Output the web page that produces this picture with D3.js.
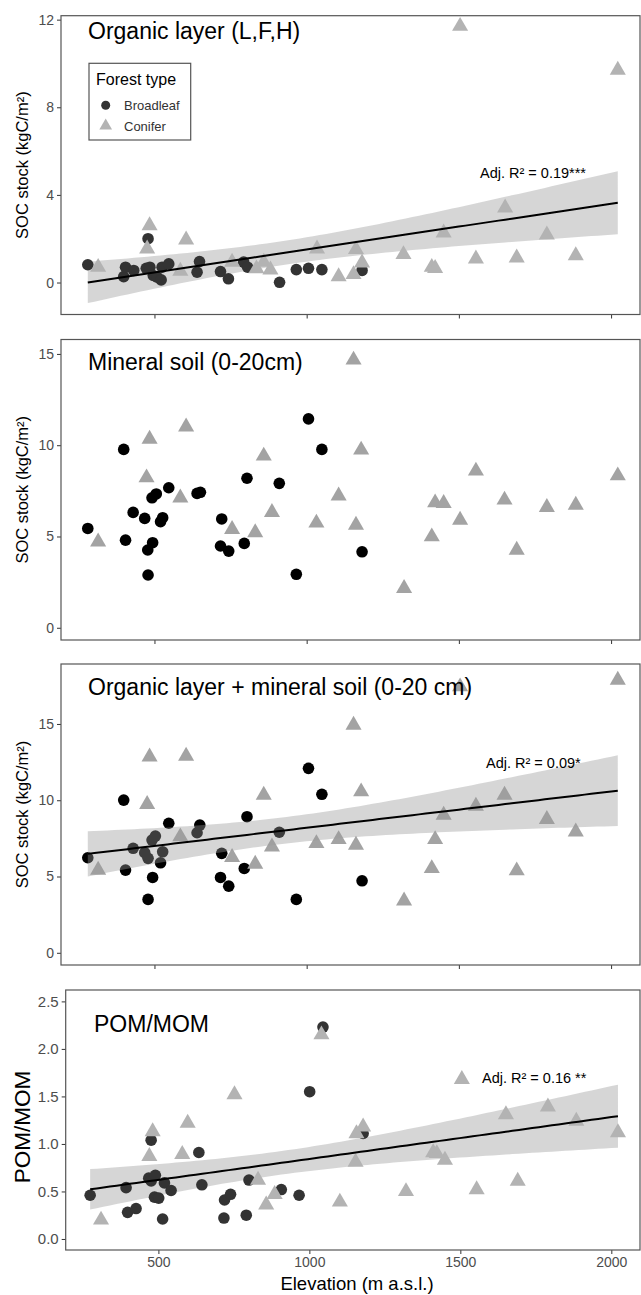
<!DOCTYPE html>
<html>
<head>
<meta charset="utf-8">
<script src="https://cdn.jsdelivr.net/npm/d3@7"></script>
<style>
  body { margin: 0; background: #fff; }
  text { font-family: "Liberation Sans", Arial, sans-serif; }
</style>
</head>
<body>
<svg id="chart" width="641" height="1295"></svg>
<script>
// elevation (m a.s.l.), value
const organicBroadleaf = [
  [281, 0.81], [399, 0.27], [405, 0.70], [432, 0.55], [473, 0.65], [479, 2.0], [485, 0.70],
  [496, 0.32], [509, 0.24], [522, 0.12], [525, 0.70], [547, 0.85], [640, 0.47], [648, 0.96],
  [717, 0.50], [743, 0.17], [793, 0.93], [806, 0.70], [911, 0.01], [966, 0.59], [1006, 0.65],
  [1050, 0.59], [1182, 0.55]
];
const organicConifer = [
  [315, 0.70], [484, 2.6], [476, 1.54], [604, 1.95], [585, 0.52], [755, 0.93], [835, 0.63],
  [859, 0.93], [881, 0.58], [1034, 1.54], [1504, 11.7], [2022, 9.7], [1652, 3.41], [1450, 2.27],
  [1789, 2.18], [1162, 1.51], [1318, 1.28], [1182, 0.90], [1105, 0.27], [1154, 0.37], [1411, 0.70],
  [1422, 0.65], [1556, 1.08], [1690, 1.13], [1884, 1.23]
];
const mineralBroadleaf = [
  [281, 5.44], [399, 9.77], [405, 4.80], [430, 6.32], [468, 5.99], [478, 4.26], [479, 2.89],
  [494, 4.66], [492, 7.12], [506, 7.33], [520, 5.81], [527, 6.03], [547, 7.67], [640, 7.36],
  [651, 7.42], [721, 5.96], [717, 4.48], [744, 4.20], [795, 4.62], [804, 8.19], [910, 7.91],
  [966, 2.93], [1006, 11.44], [1050, 9.77], [1182, 4.16]
];
const mineralConifer = [
  [315, 4.71], [484, 10.34], [474, 8.22], [604, 11.01], [585, 7.12], [755, 5.39], [831, 5.21],
  [859, 9.41], [886, 6.32], [1032, 5.74], [1154, 14.67], [1179, 9.74], [1162, 5.63], [1105, 7.23],
  [1320, 2.16], [1411, 4.99], [1422, 6.85], [1450, 6.82], [1504, 5.90], [1556, 8.59], [1650, 7.00],
  [1690, 4.26], [1789, 6.60], [1884, 6.72], [2022, 8.33]
];
const totalBroadleaf = [
  [281, 6.23], [399, 10.01], [405, 5.42], [430, 6.85], [468, 6.56], [479, 6.19], [479, 3.50],
  [494, 4.94], [492, 7.39], [503, 7.65], [520, 5.90], [527, 6.62], [547, 8.49], [640, 7.87],
  [649, 8.37], [721, 6.52], [717, 4.94], [744, 4.37], [795, 5.53], [804, 8.92], [910, 7.90],
  [966, 3.50], [1006, 12.09], [1050, 10.39], [1182, 4.72]
];
const totalConifer = [
  [315, 5.42], [484, 12.85], [476, 9.73], [604, 12.90], [585, 7.61], [755, 6.26], [831, 5.82],
  [859, 10.34], [886, 6.95], [1032, 7.17], [1504, 17.44], [2022, 17.88], [1154, 14.93], [1179, 10.56],
  [1162, 7.06], [1105, 7.43], [1320, 3.41], [1411, 5.53], [1422, 7.43], [1450, 9.03], [1556, 9.62],
  [1650, 10.34], [1690, 5.38], [1789, 8.75], [1884, 7.93]
];
const pomBroadleaf = [
  [274, 0.46], [393, 0.54], [398, 0.28], [426, 0.32], [468, 0.64], [476, 1.04], [476, 0.61],
  [490, 0.67], [487, 0.44], [501, 0.43], [514, 0.21], [520, 0.59], [542, 0.51], [634, 0.91],
  [644, 0.57], [717, 0.22], [719, 0.41], [739, 0.47], [791, 0.25], [800, 0.62], [907, 0.52],
  [966, 0.46], [1001, 1.55], [1045, 2.23], [1178, 1.11]
];
const pomConifer = [
  [310, 0.20], [470, 0.87], [481, 1.13], [579, 0.89], [597, 1.22], [752, 1.52], [830, 0.62],
  [857, 0.36], [885, 0.47], [1040, 2.15], [1101, 0.39], [1153, 0.81], [1178, 1.18], [1156, 1.11],
  [1320, 0.50], [1410, 0.91], [1422, 0.90], [1449, 0.83], [1505, 1.68], [1554, 0.52], [1651, 1.31],
  [1690, 0.61], [1790, 1.39], [1884, 1.24], [2022, 1.12]
];

const xTicks = [500, 1000, 1500, 2000];
const organicTicks = [0, 4, 8, 12];
const mineralTicks = [0, 5, 10, 15];
const totalTicks = [0, 5, 10, 15];
const pomTicks = [0, 0.5, 1, 1.5, 2, 2.5];
const forestTypes = ["Broadleaf", "Conifer"];

const panels = [
  { title: "Organic layer (L,F,H)", ytitle: "SOC stock (kgC/m²)", broad: organicBroadleaf, conif: organicConifer,
    ticks: organicTicks, fmt: d3.format("d"), ydom: [-1.46, 12.18], top: 15.7, bottom: 314.5, left: 61,
    fit: true, r2: "Adj. R² = 0.19***", r2x: 480, r2y: 178, titleY: 39, dot: "#333", tri: "#b3b3b3", bandOnTop: false, legend: true },
  { title: "Mineral soil (0-20cm)", ytitle: "SOC stock (kgC/m²)", broad: mineralBroadleaf, conif: mineralConifer,
    ticks: mineralTicks, fmt: d3.format("d"), ydom: [-0.67, 15.79], top: 339.5, bottom: 640, left: 61,
    fit: false, titleY: 370, dot: "#000", tri: "#a3a3a3" },
  { title: "Organic layer + mineral soil (0-20 cm)", ytitle: "SOC stock (kgC/m²)", broad: totalBroadleaf, conif: totalConifer,
    ticks: totalTicks, fmt: d3.format("d"), ydom: [-0.8, 18.93], top: 664, bottom: 965, left: 61,
    fit: true, r2: "Adj. R² = 0.09*", r2x: 486, r2y: 768, titleY: 695, dot: "#000", tri: "#a3a3a3", bandOnTop: true },
  { title: "POM/MOM", ytitle: "POM/MOM", broad: pomBroadleaf, conif: pomConifer,
    ticks: pomTicks, fmt: d3.format(".1f"), ydom: [-0.116, 2.62], top: 990, bottom: 1250, left: 65.7,
    fit: true, r2: "Adj. R² = 0.16 **", r2x: 482, r2y: 1083, titleY: 1032, titleX: 94, dot: "#333", tri: "#b3b3b3",
    bandOnTop: false, bigAxis: true, xLabels: true, ytitleY: 1127 }
];

const svg = d3.select("#chart");
const right = 640;
const tri = d3.symbol().type(d3.symbolTriangle).size(112);

function fitBand(pts) {
  const n = pts.length;
  const mx = d3.mean(pts, d => d[0]), my = d3.mean(pts, d => d[1]);
  const sxx = d3.sum(pts, d => (d[0] - mx) ** 2);
  const b = d3.sum(pts, d => (d[0] - mx) * (d[1] - my)) / sxx;
  const a = my - b * mx;
  const s = Math.sqrt(d3.sum(pts, d => (d[1] - a - b * d[0]) ** 2) / (n - 2));
  const [x0, x1] = d3.extent(pts, d => d[0]);
  return d3.range(81).map(i => {
    const x = x0 + (x1 - x0) * i / 80, yh = a + b * x;
    const se = 2.01 * s * Math.sqrt(1 / n + (x - mx) ** 2 / sxx);
    return { x, y: yh, lo: yh - se, hi: yh + se };
  });
}

panels.forEach(p => {
  const x = d3.scaleLinear().domain([193, 2095]).range([p.left, right]);
  const y = d3.scaleLinear().domain(p.ydom).range([p.bottom, p.top]);
  const g = svg.append("g");

  // axes
  const yAxis = g.append("g").attr("transform", `translate(${p.left},0)`)
    .call(d3.axisLeft(y).tickValues(p.ticks).tickFormat(p.fmt).tickSize(4).tickPadding(3));
  yAxis.select(".domain").remove();
  yAxis.selectAll("line").attr("stroke", "#333");
  yAxis.selectAll("text").attr("fill", "#4d4d4d").attr("font-size", p.bigAxis ? 15 : 14)
    .attr("font-family", '"Liberation Sans", Arial, sans-serif');

  const xAxis = g.append("g").attr("transform", `translate(0,${p.bottom})`)
    .call(d3.axisBottom(x).tickValues(xTicks).tickSize(4).tickPadding(3).tickFormat(p.xLabels ? d3.format("d") : ""));
  xAxis.select(".domain").remove();
  xAxis.selectAll("line").attr("stroke", "#333");
  xAxis.selectAll("text").attr("fill", "#4d4d4d").attr("font-size", 14)
    .attr("font-family", '"Liberation Sans", Arial, sans-serif');

  const band = p.fit ? fitBand(p.broad.concat(p.conif)) : null;
  const drawBand = () => {
    g.append("path").datum(band)
      .attr("fill", "#999").attr("fill-opacity", 0.4)
      .attr("d", d3.area().x(d => x(d.x)).y0(d => y(d.lo)).y1(d => y(d.hi)));
  };
  if (band && !p.bandOnTop) drawBand();

  g.append("g").selectAll("circle").data(p.broad).join("circle")
    .attr("cx", d => x(d[0])).attr("cy", d => y(d[1])).attr("r", 5.8).attr("fill", p.dot);
  g.append("g").selectAll("path").data(p.conif).join("path")
    .attr("d", tri).attr("transform", d => `translate(${x(d[0])},${y(d[1])})`).attr("fill", p.tri);

  if (band && p.bandOnTop) drawBand();
  if (band) {
    g.append("path").datum(band).attr("fill", "none").attr("stroke", "#000").attr("stroke-width", 2)
      .attr("d", d3.line().x(d => x(d.x)).y(d => y(d.y)));
    g.append("text").attr("x", p.r2x).attr("y", p.r2y).attr("font-size", 14.5).attr("fill", "#000").text(p.r2);
  }

  // panel border
  g.append("rect").attr("x", p.left).attr("y", p.top).attr("width", right - p.left).attr("height", p.bottom - p.top)
    .attr("fill", "none").attr("stroke", "#555").attr("stroke-width", 1.2);

  g.append("text").attr("x", p.titleX || 88).attr("y", p.titleY).attr("font-size", 23).attr("fill", "#000").text(p.title);

  g.append("text")
    .attr("transform", `translate(${p.bigAxis ? 30 : 27.5},${p.ytitleY || (p.top + p.bottom) / 2}) rotate(-90)`)
    .attr("text-anchor", "middle").attr("font-size", p.bigAxis ? 22.5 : 16.5).attr("fill", "#000").text(p.ytitle);

  if (p.xLabels) {
    g.append("text").attr("x", 357).attr("y", 1290).attr("text-anchor", "middle")
      .attr("font-size", 18.5).attr("fill", "#000").text("Elevation (m a.s.l.)");
  }

  if (p.legend) {
    const lg = g.append("g").attr("transform", "translate(89,63.3)");
    lg.append("rect").attr("width", 101.7).attr("height", 76.7).attr("fill", "#fff").attr("stroke", "#555").attr("stroke-width", 1.2);
    lg.append("text").attr("x", 7).attr("y", 21.7).attr("font-size", 16).attr("fill", "#000").text("Forest type");
    const item = lg.selectAll("g.item").data(forestTypes).join("g").attr("class", "item")
      .attr("transform", (d, i) => `translate(16.7,${42 + i * 20.5})`);
    item.filter((d, i) => i === 0).append("circle").attr("r", 4.5).attr("fill", p.dot);
    item.filter((d, i) => i === 1).append("path").attr("d", d3.symbol().type(d3.symbolTriangle).size(70)).attr("fill", p.tri);
    item.append("text").attr("x", 18.3).attr("y", 5).attr("font-size", 13).attr("fill", "#333").text(d => d);
  }
});
</script>
</body>
</html>
